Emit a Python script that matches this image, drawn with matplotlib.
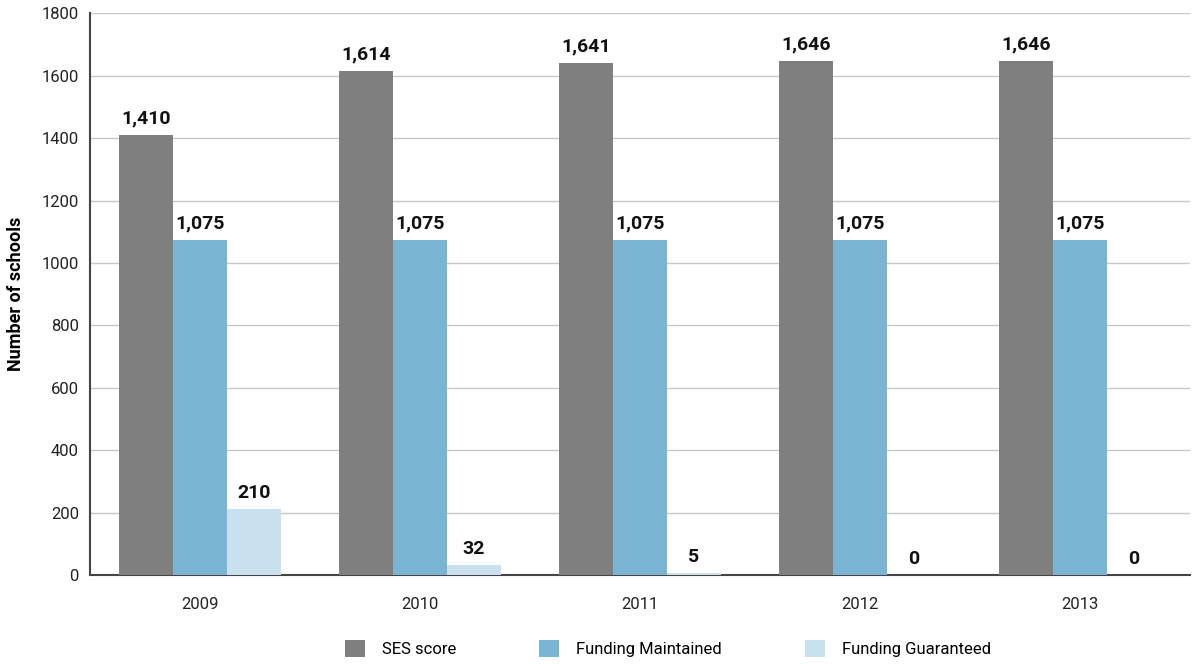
import matplotlib
matplotlib.use("Agg")
import matplotlib.pyplot as plt
import numpy as np

years = ["2009", "2010", "2011", "2012", "2013"]
ses_score = [1410, 1614, 1641, 1646, 1646]
funding_maintained = [1075, 1075, 1075, 1075, 1075]
funding_guaranteed = [210, 32, 5, 0, 0]
series_names = ["SES score", "Funding Maintained", "Funding Guaranteed"]
colors = ["#7f7f7f", "#7bb3d3", "#c9e0ee"]

plt.rcParams['font.family'] = ['Roboto', 'DejaVu Sans']

fig = plt.figure(figsize=(11.97, 6.64), dpi=100)
ax = fig.add_axes([0.0752, 0.134, 0.919, 0.846])

x = np.arange(len(years))
w = 0.245
series = [ses_score, funding_maintained, funding_guaranteed]
for i, (vals, name, c) in enumerate(zip(series, series_names, colors)):
    pos = x + (i - 1) * w
    ax.bar(pos, vals, width=w, color=c, label=name, zorder=3)
    for p, v in zip(pos, vals):
        ax.text(p, v + 24, f"{v:,}", ha="center", va="bottom",
                fontsize=14, fontweight="bold", color="#111111", zorder=4)

ax.set_xlim(-0.5, len(years) - 0.5)
ax.set_ylim(0, 1800)
ax.set_yticks(range(0, 1801, 200))
ax.set_xticks(x)
ax.set_xticklabels(years)
ax.yaxis.grid(True, color="#c8c8c8", linewidth=1, zorder=0)
ax.set_axisbelow(True)
for s in ["top", "right"]:
    ax.spines[s].set_visible(False)
for s in ["left", "bottom"]:
    ax.spines[s].set_color("#444444")
    ax.spines[s].set_linewidth(1.5)
ax.tick_params(axis="both", length=0, labelsize=12, colors="#222222", pad=8)
ax.tick_params(axis="x", pad=16)
ax.set_ylabel("Number of schools", fontsize=13, fontweight="bold", labelpad=12)

fig.legend(loc="lower center", bbox_to_anchor=(0.558, -0.012), ncol=3,
           frameon=False, fontsize=12, handlelength=1.2, handleheight=1.2,
           columnspacing=5.0, handletextpad=1.0)

fig.savefig("out.png", dpi=100)
